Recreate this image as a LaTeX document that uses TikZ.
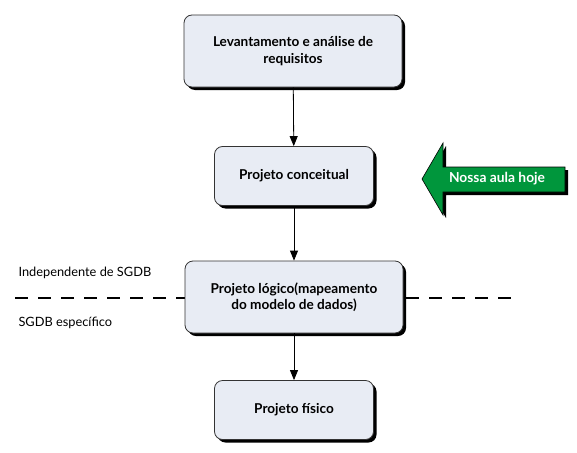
\documentclass[tikz,border=0pt]{standalone}
\usepackage{fontspec}
\setmainfont{Lato}
\usetikzlibrary{arrows.meta,positioning,shadows}
\definecolor{caixa}{HTML}{E8ECF4}
\definecolor{verde}{HTML}{00963C}

\begin{document}
\begin{tikzpicture}[x=1pt,y=-1pt,>={Triangle[length=10pt,width=8pt]},
    etapa/.style={draw=black!80,fill=caixa,rounded corners=8pt,line width=0.8pt,
      align=center,font=\bfseries\fontsize{13.6}{16.5}\selectfont,
      drop shadow={shadow xshift=3pt,shadow yshift=-3pt,opacity=1,fill=black}},
    grande/.style={etapa,minimum width=218pt,minimum height=72pt},
    pequena/.style={etapa,minimum width=159pt,minimum height=59pt},
    rotulo/.style={anchor=west,font=\fontsize{12.8}{15}\selectfont}]
  \useasboundingbox (0,0) rectangle (577,452);

  % Linha tracejada (atras da caixa)
  \coordinate (tL) at (15,298);
  \coordinate (tR) at (515,298);
  \draw[line width=1.4pt,dash pattern=on 13pt off 10pt] (tL) -- (tR);

  % Etapas
  \node[grande]  (levant)     at (293,51)  {Levantamento e análise de\\requisitos};
  \node[pequena] (conceitual) at (294,176) {Projeto conceitual};
  \node[grande]  (logico)     at (294,297) {Projeto lógico(mapeamento\\do modelo de dados)};
  \node[pequena] (fisico)     at (294,410) {Projeto físico};

  % Setas
  \draw[->,line width=0.8pt] (levant) -- (conceitual);
  \draw[->,line width=0.8pt] (conceitual) -- (logico);
  \draw[->,line width=0.8pt] (logico) -- (fisico);

  % Rotulos
  \node[rotulo] (indep) at (15,273) {Independente de SGDB};
  \node[rotulo] (espec) at (15,323) {SGDB específico};

  % Seta verde
  \path[fill=verde,draw=black,line width=0.6pt,
    drop shadow={shadow xshift=3pt,shadow yshift=-3pt,opacity=1,fill=black}]
    (422,179) -- (443,143) -- (443,167) -- (565,167) -- (565,192)
    -- (443,192) -- (443,215) -- cycle;
  \node[text=white,font=\bfseries\fontsize{13.8}{16}\selectfont] (hoje) at (497,179) {Nossa aula hoje};
\end{tikzpicture}
\end{document}
